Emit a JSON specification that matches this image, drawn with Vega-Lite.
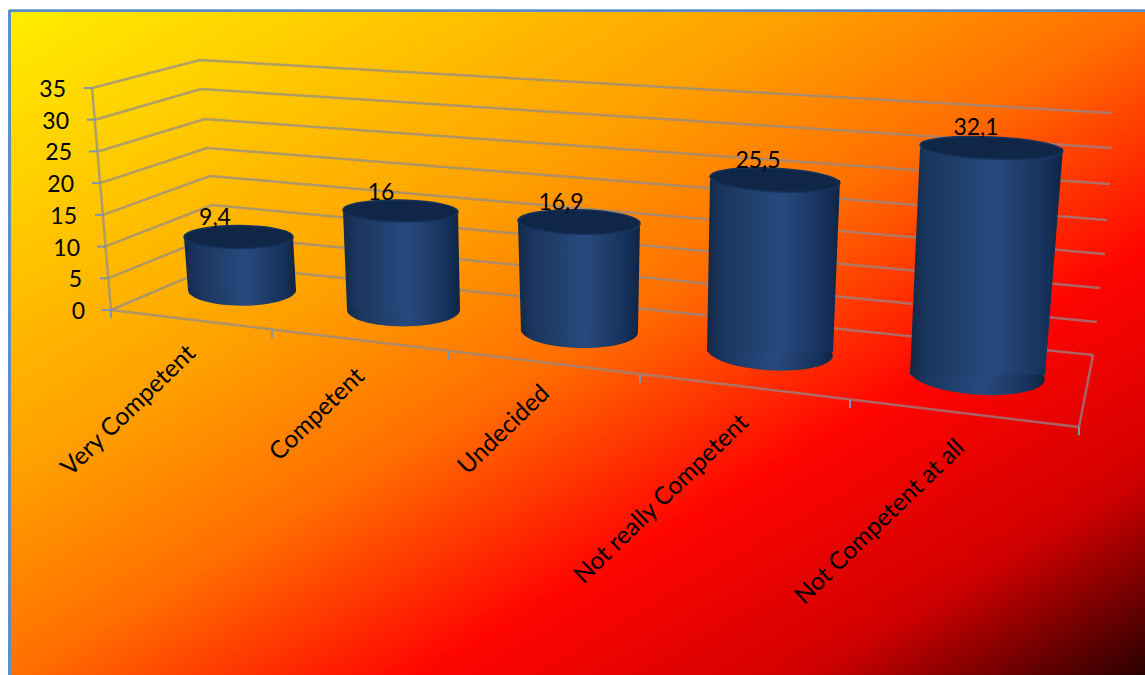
{"$schema":"https://vega.github.io/schema/vega-lite/v6.json","width":1136,"height":665,"autosize":{"type":"none"},"padding":{"left":9,"top":10,"right":0,"bottom":0},"background":"white","config":{"axis":{"disable":true},"legend":{"disable":true},"view":{"stroke":null}},"view":{"stroke":null,"fill":{"gradient":"linear","x1":0,"y1":0,"x2":1,"y2":1,"stops":[{"offset":0,"color":"#ffee00"},{"offset":0.35,"color":"#ffa000"},{"offset":0.5,"color":"#ff7000"},{"offset":0.68,"color":"#ff0500"},{"offset":0.85,"color":"#d00000"},{"offset":1,"color":"#2a0000"}]}},"datasets":{"bars":[{"category":"Very Competent","value":9.4,"label":"9,4","topX":238.5,"topY":11.51,"floorX":242,"floorY":3.15,"labelX":215,"labelY":13.4,"nameX":192,"nameY":-6.3},{"category":"Competent","value":16,"label":"16","topX":400.5,"topY":15.61,"floorX":403.5,"floorY":0,"labelX":381,"labelY":17.34,"nameX":361,"nameY":-9.9},{"category":"Undecided","value":16.9,"label":"16,9","topX":579,"topY":13.87,"floorX":579.5,"floorY":-3.31,"labelX":561,"labelY":15.77,"nameX":546,"nameY":-12.6},{"category":"Not really Competent","value":25.5,"label":"25,5","topX":775,"topY":20.5,"floorX":770,"floorY":-6.62,"labelX":758,"labelY":22.39,"nameX":745,"nameY":-17.2},{"category":"Not Competent at all","value":32.1,"label":"32,1","topX":991.5,"topY":25.54,"floorX":977.5,"floorY":-10.25,"labelX":976,"labelY":27.6,"nameX":961,"nameY":-21.15}],"sides":[{"category":"Very Competent","height":11.51,"left":184,"right":293},{"category":"Very Competent","height":3.15,"left":188,"right":296},{"category":"Competent","height":15.61,"left":343,"right":458},{"category":"Competent","height":0,"left":347,"right":460},{"category":"Undecided","height":13.87,"left":518,"right":640},{"category":"Undecided","height":-3.31,"left":521,"right":638},{"category":"Not really Competent","height":20.5,"left":710,"right":840},{"category":"Not really Competent","height":-6.62,"left":707,"right":833},{"category":"Not Competent at all","height":25.54,"left":920,"right":1063},{"category":"Not Competent at all","height":-10.25,"left":910,"right":1045}],"edges":[{"edge":"35","step":1,"across":92,"height":35},{"edge":"35","step":2,"across":200,"height":39.41},{"edge":"35","step":3,"across":1112,"height":31.06},{"edge":"30","step":1,"across":95,"height":30},{"edge":"30","step":2,"across":201,"height":34.84},{"edge":"30","step":3,"across":1112,"height":25.54},{"edge":"25","step":1,"across":98,"height":25},{"edge":"25","step":2,"across":205,"height":30.11},{"edge":"25","step":3,"across":1110,"height":19.86},{"edge":"20","step":1,"across":100,"height":20},{"edge":"20","step":2,"across":207,"height":25.54},{"edge":"20","step":3,"across":1107,"height":14.19},{"edge":"15","step":1,"across":103,"height":15},{"edge":"15","step":2,"across":210,"height":21.13},{"edge":"15","step":3,"across":1105,"height":8.83},{"edge":"10","step":1,"across":105,"height":10},{"edge":"10","step":2,"across":212,"height":16.55},{"edge":"10","step":3,"across":1100,"height":3.47},{"edge":"5","step":1,"across":108,"height":5},{"edge":"5","step":2,"across":215,"height":11.82},{"edge":"5","step":3,"across":1097,"height":-1.89},{"edge":"0","step":1,"across":111,"height":0},{"edge":"0","step":2,"across":217,"height":7.09},{"edge":"0","step":3,"across":1093,"height":-7.09},{"edge":"wall","step":1,"across":92,"height":35},{"edge":"wall","step":2,"across":111,"height":0},{"edge":"floor","step":1,"across":111,"height":0},{"edge":"floor","step":2,"across":1079,"height":-18.45},{"edge":"floor","step":3,"across":1093,"height":-7.09}],"levels":[{"level":35,"tickStart":84,"tickEnd":92,"labelEnd":66},{"level":30,"tickStart":87,"tickEnd":95,"labelEnd":69},{"level":25,"tickStart":89,"tickEnd":98,"labelEnd":72},{"level":20,"tickStart":92,"tickEnd":100,"labelEnd":74},{"level":15,"tickStart":95,"tickEnd":103,"labelEnd":77},{"level":10,"tickStart":97,"tickEnd":105,"labelEnd":80},{"level":5,"tickStart":100,"tickEnd":108,"labelEnd":82},{"level":0,"tickStart":102,"tickEnd":111,"labelEnd":85}],"floorTicks":[{"across":111,"from":0,"to":-1.26},{"across":272,"from":-3.15,"to":-4.41},{"across":449,"from":-6.62,"to":-7.88},{"across":640,"from":-10.25,"to":-11.51},{"across":850,"from":-14.19,"to":-15.45},{"across":1079,"from":-18.45,"to":-19.71}]},"resolve":{"scale":{"size":"independent","angle":"independent"}},"layer":[{"data":{"name":"bars"},"mark":{"type":"rule","color":"#5b8ec9","strokeWidth":2},"encoding":{"x":{"datum":9.5,"type":"quantitative","scale":{"domain":[9,1145],"nice":false,"zero":false}}}},{"data":{"name":"bars"},"mark":{"type":"rule","color":"#5b8ec9","strokeWidth":2},"encoding":{"y":{"datum":47.2,"type":"quantitative","scale":{"domain":[-57.54,47.3],"nice":false,"zero":false}}}},{"data":{"name":"edges"},"mark":{"type":"line","color":"#8f8a90","opacity":0.7,"strokeWidth":2.5},"encoding":{"x":{"field":"across","type":"quantitative","scale":{"domain":[9,1145],"nice":false,"zero":false}},"y":{"field":"height","type":"quantitative","scale":{"domain":[-57.54,47.3],"nice":false,"zero":false}},"detail":{"field":"edge"},"order":{"field":"step"}}},{"data":{"name":"levels"},"mark":{"type":"rule","color":"#7f93ad","strokeWidth":2},"encoding":{"x":{"field":"tickStart","type":"quantitative","scale":{"domain":[9,1145],"nice":false,"zero":false}},"x2":{"field":"tickEnd"},"y":{"field":"level","type":"quantitative","scale":{"domain":[-57.54,47.3],"nice":false,"zero":false}}}},{"data":{"name":"floorTicks"},"mark":{"type":"rule","color":"#7f93ad","strokeWidth":2},"encoding":{"x":{"field":"across","type":"quantitative","scale":{"domain":[9,1145],"nice":false,"zero":false}},"y":{"field":"from","type":"quantitative","scale":{"domain":[-57.54,47.3],"nice":false,"zero":false}},"y2":{"field":"to"}}},{"data":{"name":"bars"},"mark":{"type":"point","filled":true,"opacity":1,"shape":"M-1,0C-1,-0.16,-0.5523,-0.29,0,-0.29C0.5523,-0.29,1,-0.16,1,0C1,0.16,0.5523,0.29,0,0.29C-0.5523,0.29,-1,0.16,-1,0Z","fill":{"gradient":"linear","x1":0,"y1":0,"x2":1,"y2":0,"stops":[{"offset":0,"color":"#142845"},{"offset":0.12,"color":"#1a365f"},{"offset":0.55,"color":"#274a7e"},{"offset":0.9,"color":"#15305a"},{"offset":1,"color":"#0f2442"}]}},"encoding":{"x":{"field":"floorX","type":"quantitative","scale":{"domain":[9,1145],"nice":false,"zero":false}},"y":{"field":"floorY","type":"quantitative","scale":{"domain":[-57.54,47.3],"nice":false,"zero":false}},"size":{"field":"value","type":"quantitative","scale":{"zero":false,"nice":false,"domain":[9.4,16,16.9,25.5,32.1],"range":[11664,12769,13689,15876,18225]}},"angle":{"field":"value","type":"quantitative","scale":{"zero":false,"nice":false,"domain":[9.4,16,16.9,25.5,32.1],"range":[0,0,1.5,3.5,4]}}}},{"data":{"name":"sides"},"mark":{"type":"area","orient":"horizontal","fill":{"gradient":"linear","x1":0,"y1":0,"x2":1,"y2":0,"stops":[{"offset":0,"color":"#142845"},{"offset":0.12,"color":"#1a365f"},{"offset":0.55,"color":"#274a7e"},{"offset":0.9,"color":"#15305a"},{"offset":1,"color":"#0f2442"}]}},"encoding":{"x":{"field":"left","type":"quantitative","scale":{"domain":[9,1145],"nice":false,"zero":false}},"x2":{"field":"right"},"y":{"field":"height","type":"quantitative","scale":{"domain":[-57.54,47.3],"nice":false,"zero":false}},"detail":{"field":"category"}}},{"data":{"name":"bars"},"mark":{"type":"point","filled":true,"opacity":1,"fill":"#0f2646","stroke":"#16335e","strokeWidth":1.5},"encoding":{"x":{"field":"topX","type":"quantitative","scale":{"domain":[9,1145],"nice":false,"zero":false}},"y":{"field":"topY","type":"quantitative","scale":{"domain":[-57.54,47.3],"nice":false,"zero":false}},"size":{"field":"value","type":"quantitative","scale":{"zero":false,"nice":false,"domain":[9.4,16,16.9,25.5,32.1],"range":[11881,13225,14884,16900,20449]}},"angle":{"field":"value","type":"quantitative","scale":{"zero":false,"nice":false,"domain":[9.4,16,16.9,25.5,32.1],"range":[0,1,1.5,3,2.5]}},"shape":{"field":"category","type":"nominal","scale":{"domain":["Very Competent","Competent","Undecided","Not really Competent","Not Competent at all"],"range":["M-1,0C-1,-0.116,-0.5523,-0.21,0,-0.21C0.5523,-0.21,1,-0.116,1,0C1,0.116,0.5523,0.21,0,0.21C-0.5523,0.21,-1,0.116,-1,0Z","M-1,0C-1,-0.105,-0.5523,-0.19,0,-0.19C0.5523,-0.19,1,-0.105,1,0C1,0.105,0.5523,0.19,0,0.19C-0.5523,0.19,-1,0.105,-1,0Z","M-1,0C-1,-0.11,-0.5523,-0.2,0,-0.2C0.5523,-0.2,1,-0.11,1,0C1,0.11,0.5523,0.2,0,0.2C-0.5523,0.2,-1,0.11,-1,0Z","M-1,0C-1,-0.1,-0.5523,-0.18,0,-0.18C0.5523,-0.18,1,-0.1,1,0C1,0.1,0.5523,0.18,0,0.18C-0.5523,0.18,-1,0.1,-1,0Z","M-1,0C-1,-0.086,-0.5523,-0.155,0,-0.155C0.5523,-0.155,1,-0.086,1,0C1,0.086,0.5523,0.155,0,0.155C-0.5523,0.155,-1,0.086,-1,0Z"]}}}},{"data":{"name":"bars"},"mark":{"type":"text","font":"Lato","fontSize":23,"color":"black","align":"center","baseline":"alphabetic"},"encoding":{"x":{"field":"labelX","type":"quantitative","scale":{"domain":[9,1145],"nice":false,"zero":false}},"y":{"field":"labelY","type":"quantitative","scale":{"domain":[-57.54,47.3],"nice":false,"zero":false}},"text":{"field":"label"}}},{"data":{"name":"bars"},"mark":{"type":"text","font":"Lato","fontSize":24.5,"color":"black","align":"right","baseline":"middle","angle":316},"encoding":{"x":{"field":"nameX","type":"quantitative","scale":{"domain":[9,1145],"nice":false,"zero":false}},"y":{"field":"nameY","type":"quantitative","scale":{"domain":[-57.54,47.3],"nice":false,"zero":false}},"text":{"field":"category"}}},{"data":{"name":"levels"},"mark":{"type":"text","font":"Lato","fontSize":23,"color":"black","align":"right","baseline":"middle","dy":2},"encoding":{"x":{"field":"labelEnd","type":"quantitative","scale":{"domain":[9,1145],"nice":false,"zero":false}},"y":{"field":"level","type":"quantitative","scale":{"domain":[-57.54,47.3],"nice":false,"zero":false}},"text":{"field":"level","type":"quantitative"}}}]}
